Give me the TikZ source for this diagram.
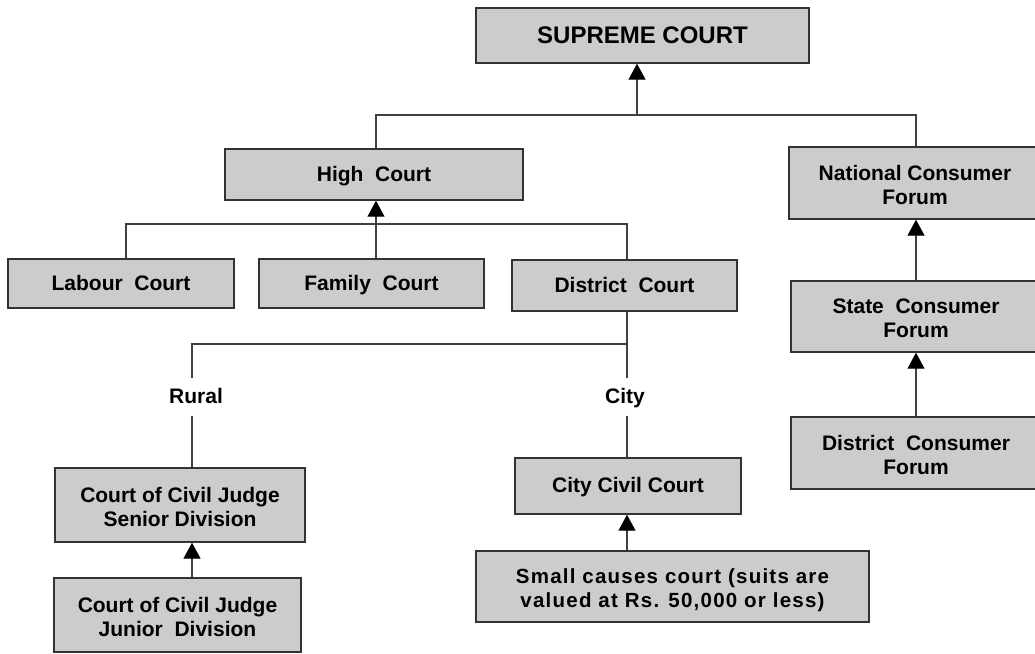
\documentclass[tikz,border=0pt]{standalone}
\usepackage{fontspec}
\setmainfont{Liberation Sans}
\usetikzlibrary{arrows.meta}
\definecolor{boxfill}{HTML}{CCCCCC}
\definecolor{ink}{HTML}{333333}
\definecolor{wire}{HTML}{404040}
% two centred lines, set a little lower than the box centre
\newcommand{\pairlines}[2]{\raisebox{-4.5pt}[\height][\depth]{\begin{tabular}{@{}c@{}}#1\\#2\end{tabular}}}
\begin{document}
\begin{tikzpicture}[x=1pt,y=-1pt,
  court/.style={draw=ink, line width=1.4pt, fill=boxfill, align=center,
    inner sep=0pt, font=\fontsize{21}{24}\selectfont\bfseries},
  oneline/.style={text height=15pt, text depth=2pt},
  tag/.style={inner sep=0pt, minimum height=37pt, text height=15pt, text depth=2pt,
    font=\fontsize{21}{24}\selectfont\bfseries},
  link/.style={draw=wire, line width=1.3pt},
  up/.style={link, -{Triangle[width=17pt,length=16pt,color=black]}}]
\clip (0,0) rectangle (1035,653);
\fill[white] (0,0) rectangle (1035,653);

% courts
\node[court, minimum width=333pt, minimum height=55pt,
  font=\fontsize{24}{27}\selectfont\bfseries, text height=17pt, text depth=1pt]
  (sc) at (642.5,35.5) {SUPREME COURT};
\node[court, oneline, minimum width=298pt, minimum height=51pt] (hc) at (374,174.5) {High\ \ Court};
\node[court, minimum width=252pt, minimum height=72pt] (nc) at (915,183) {\pairlines{National Consumer}{Forum}};
\node[court, oneline, minimum width=226pt, minimum height=49pt] (lab) at (121,283.5) {Labour\ \ Court};
\node[court, oneline, minimum width=225pt, minimum height=49pt] (fam) at (371.5,283.5) {Family\ \ Court};
\node[court, oneline, minimum width=225pt, minimum height=51pt] (dc) at (624.5,285.5) {District\ \ Court};
\node[court, minimum width=250pt, minimum height=71pt] (st) at (916,316.5) {\pairlines{State\ \ Consumer}{Forum}};
\node[court, minimum width=250pt, minimum height=72pt] (dcf) at (916,453) {\pairlines{District\ \ Consumer}{Forum}};
\node[court, minimum width=250pt, minimum height=74pt] (sen) at (180,505) {\pairlines{Court of Civil Judge}{Senior Division}};
\node[court, minimum width=247pt, minimum height=74pt] (jun) at (177.5,615) {\pairlines{Court of Civil Judge}{Junior\ \ Division}};
\node[court, oneline, minimum width=226pt, minimum height=56pt] (ccc) at (628,486) {City Civil Court};
\node[court, minimum width=393pt, minimum height=71pt,
  font=\fontsize{20.5}{23.5}\selectfont\bfseries\addfontfeatures{LetterSpace=6}]
  (sml) at (672.5,586.5) {\pairlines{Small causes court (suits are}{valued at Rs. 50,000 or less)}};

% branch labels
\node[tag] (rural) at (196,397) {Rural};
\node[tag] (city) at (625,397) {City};

% junction points
\coordinate (tl) at (376,115);
\coordinate (tm) at (637,115);
\coordinate (tr) at (916,115);
\coordinate (ml) at (126,224);
\coordinate (mm) at (376,224);
\coordinate (mr) at (627,224);
\coordinate (rl) at (192,344);
\coordinate (rr) at (627,344);

% top level
\draw[link] (hc.north -| tl) -- (tl) -- (tr) -- (nc.north -| tr);
\draw[up] (tm) -- (sc.south -| tm);

% under the High Court
\draw[link] (lab.north -| ml) -- (ml) -- (mr) -- (dc.north -| mr);
\draw[up] (fam.north -| mm) -- (hc.south -| mm);

% rural and city branches
\draw[link] (dc.south -| rr) -- (rr) -- (rl) -- (rural.north -| rl);
\draw[link] (rural.south -| rl) -- (sen.north -| rl);
\draw[link] (rr) -- (city.north -| rr);
\draw[link] (city.south -| rr) -- (ccc.north -| rr);
\draw[up] (jun.north -| rl) -- (sen.south -| rl);
\draw[up] (sml.north -| rr) -- (ccc.south -| rr);

% consumer forums
\draw[up] (st.north -| tr) -- (nc.south -| tr);
\draw[up] (dcf.north -| tr) -- (st.south -| tr);
\end{tikzpicture}
\end{document}
